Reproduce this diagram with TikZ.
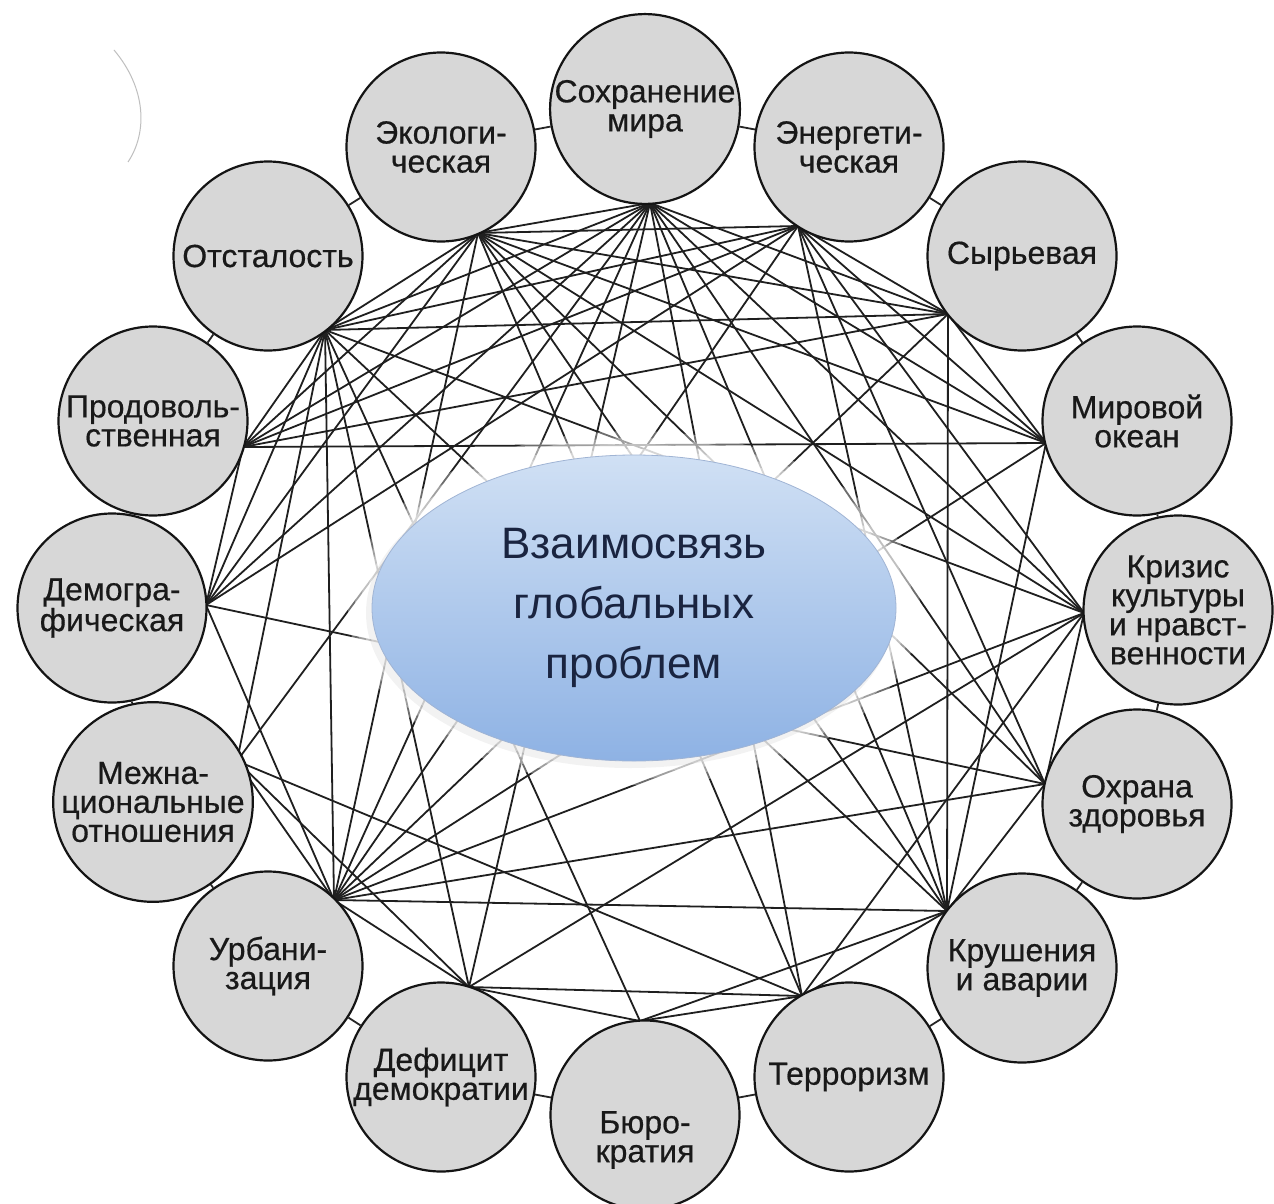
\documentclass[tikz,border=0pt]{standalone}
\usepackage{fontspec}
\setmainfont{Liberation Sans}
\newfontfamily\probfont{Liberation Sans}[FakeBold=0.5]
\usetikzlibrary{shapes.geometric}
\definecolor{probfill}{RGB}{215,215,215}
\definecolor{ellTop}{RGB}{208,224,244}
\definecolor{ellBot}{RGB}{142,178,228}
\definecolor{ellText}{RGB}{26,36,64}
\begin{document}
\begin{tikzpicture}[x=1pt,y=-1pt,
  prob/.style={circle, draw=black!92, line width=2.2pt, fill=probfill, minimum size=189pt,
    inner sep=0pt, align=center, font=\probfont\fontsize{32}{29}\selectfont, text=black!90},
  link/.style={line width=1.8pt, draw=black!88},
  ringlink/.style={line width=1.8pt, draw=black!85},
  probtext/.style={align=center, font=\probfont\fontsize{32}{29}\selectfont, text=black!90}]
\useasboundingbox (0,0) rectangle (1274,1204);
\fill[white] (0,0) rectangle (1274,1204);
% faint scan arc
\draw[black!25, line width=1pt] (114,50) .. controls (146,88) and (148,132) .. (128,162);

% hubs (points on the inner side of each circle)
\coordinate (h0) at (650,203);
\coordinate (h1) at (798,226);
\coordinate (h2) at (948,314);
\coordinate (h3) at (1046,443);
\coordinate (h4) at (1084,613);
\coordinate (h5) at (1045,784);
\coordinate (h6) at (947,911);
\coordinate (h7) at (802,996);
\coordinate (h8) at (640,1021);
\coordinate (h9) at (469,987);
\coordinate (h10) at (334,900);
\coordinate (h11) at (237,761);
\coordinate (h12) at (206,605);
\coordinate (h13) at (243,447);
\coordinate (h14) at (325,330);
\coordinate (h15) at (478,233);

% web of links
\foreach \a/\b in {0/2,0/3,0/4,0/5,0/6,0/7,0/9,0/10,0/11,0/12,0/13,0/14,0/15,
  1/2,1/3,1/4,1/5,1/6,1/10,1/12,1/13,1/14,1/15,
  2/3,2/6,2/10,2/13,2/14,2/15,
  3/6,3/10,3/13,3/15,
  4/5,4/7,4/9,4/10,4/14,4/15,
  5/6,5/10,5/12,5/15,
  6/7,6/8,6/10,6/14,6/15,
  7/8,7/9,7/11,7/15,
  8/9,8/14,
  9/10,9/11,9/14,
  10/11,10/12,10/14,10/15,
  11/14,
  12/13,12/14,12/15,
  13/14,13/15,
  14/15}
  \draw[link] (h\a) -- (h\b);

% problem circles
\node[prob] (c0) at (645,109) {Сохранение\\мира};
\node[prob] (c1) at (849,147) {Энергети-\\ческая};
\node[prob] (c2) at (1022,256) {Сырьевая};
\node[prob] (c3) at (1137,421) {Мировой\\океан};
\node[prob] (c4) at (1178,610) {Кризис\\культуры\\и нравст-\\венности};
\node[prob] (c5) at (1137,804) {Охрана\\здоровья};
\node[prob] (c6) at (1022,968) {Крушения\\и аварии};
\node[prob] (c7) at (849,1077) {Терроризм};
\node[prob, label={[probtext, yshift=-25pt]center:Бюро-\\кратия}] (c8) at (645,1115) {};
\node[prob] (c9) at (441,1077) {Дефицит\\демократии};
\node[prob] (c10) at (268,966) {Урбани-\\зация};
\node[prob] (c11) at (153,802) {Межна-\\циональные\\отношения};
\node[prob] (c12) at (112,608) {Демогра-\\фическая};
\node[prob] (c13) at (153,421) {Продоволь-\\ственная};
\node[prob] (c14) at (268,256) {Отсталость};
\node[prob] (c15) at (441,147) {Экологи-\\ческая};

% short links between neighbouring circles
\foreach \a/\b in {0/1,1/2,2/3,3/4,4/5,5/6,6/7,7/8,8/9,9/10,10/11,11/12,12/13,13/14,14/15,15/0}
  \draw[ringlink] (c\a) -- (c\b);

% soft halo and central ellipse
\foreach \g in {24,17,11,6}
  \fill[white, opacity=0.35] (634,608) ellipse ({262+\g} and {153+\g});
\fill[black, opacity=0.05] (630,613) ellipse (264 and 155);
\node[ellipse, minimum width=524pt, minimum height=306pt, inner sep=0pt,
  top color=ellTop, bottom color=ellBot, draw={rgb,255:red,160;green,180;blue,212}, line width=0.8pt,
  align=center, text=ellText, font=\fontsize{44}{60}\selectfont] (mid) at (634,608)
  {Взаимосвязь\\глобальных\\проблем};
\end{tikzpicture}
\end{document}
